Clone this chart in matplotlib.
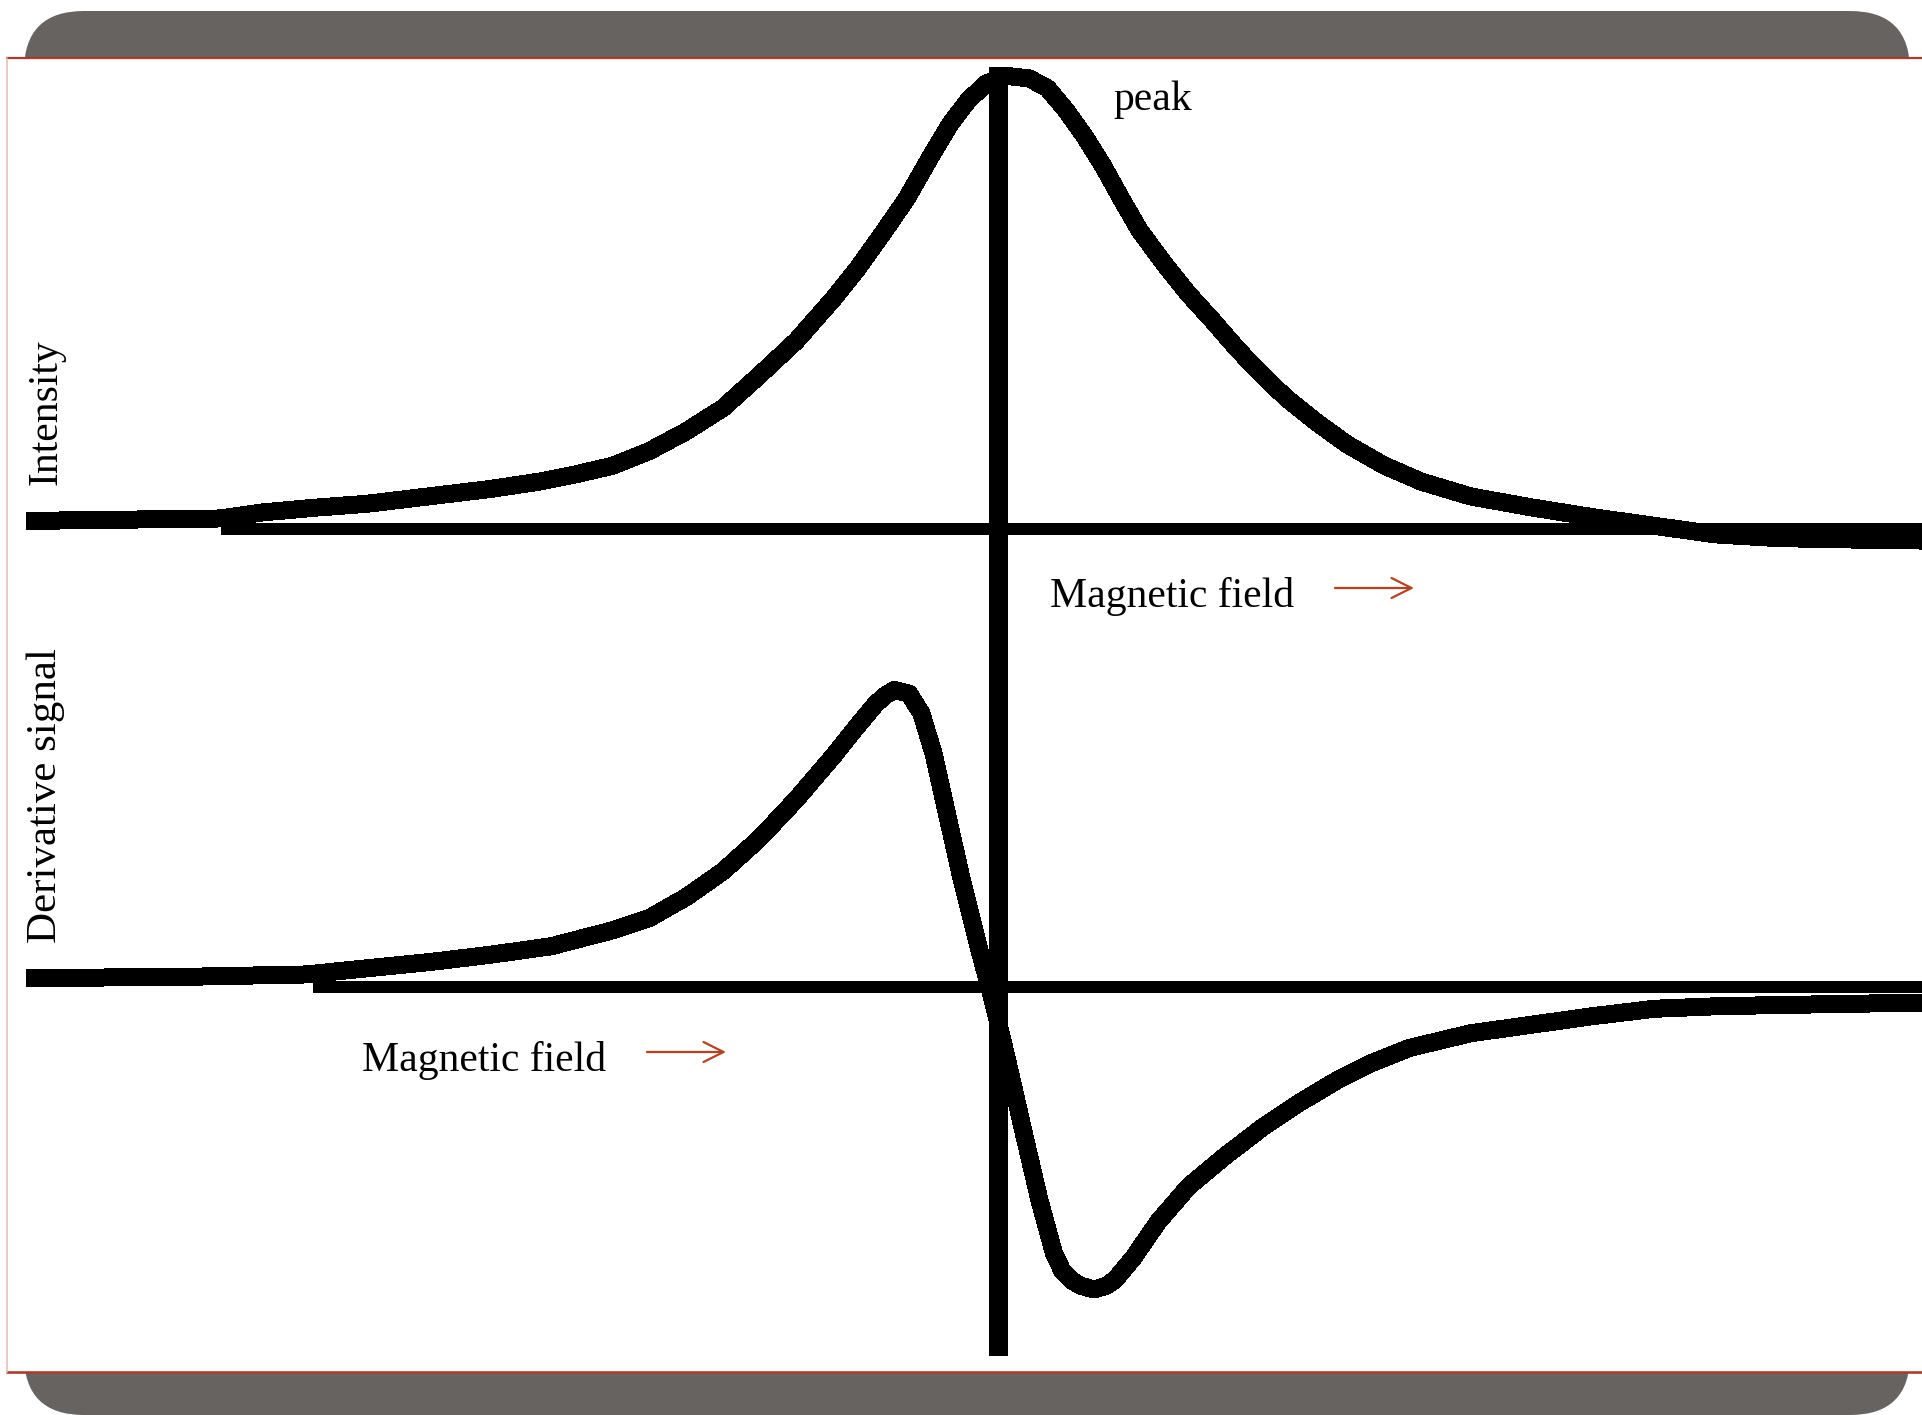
import matplotlib
matplotlib.use("Agg")
import matplotlib.pyplot as plt
from matplotlib.patches import FancyBboxPatch, Rectangle

# field in arbitrary units, 0 = line centre
field_abs = [-97.14, -87.58, -77.78, -73.49, -67.97, -63.07, -56.94, -50.81, -45.91, -42.23,
             -38.55, -34.87, -31.2, -27.52, -23.84, -20.16, -16.49, -14.04, -11.58, -9.13,
             -6.68, -4.84, -3.0, -1.16, 0.92, 3.13, 4.96, 6.8, 8.64, 10.48,
             12.32, 14.16, 16.61, 19.06, 21.51, 23.96, 26.42, 28.87, 31.93, 35.0,
             38.67, 42.35, 47.25, 53.38, 59.51, 65.64, 71.77, 77.9, 84.03, 92.36]
intensity = [1.75, 2.02, 2.29, 3.64, 4.72, 5.53, 7.15, 8.77, 10.39, 12.01,
             13.9, 17.14, 21.46, 26.59, 33.88, 41.44, 50.62, 57.37, 64.93, 72.76,
             82.21, 88.96, 94.36, 98.14, 99.76, 99.22, 97.06, 92.2, 86.53, 80.05,
             72.76, 65.74, 58.45, 51.7, 45.76, 39.55, 33.88, 28.75, 23.35, 18.49,
             13.9, 10.39, 7.15, 4.72, 2.56, 0.67, -1.22, -2.03, -2.3, -2.57]

field_der = [-97.14, -81.45, -69.2, -63.07, -56.94, -50.81, -44.68, -38.55, -34.87, -31.2,
             -27.52, -23.84, -20.16, -16.49, -14.04, -12.2, -11.2, -10.36, -8.89, -7.66,
             -6.44, -5.21, -3.62, -2.02, -0.55, 0.92, 2.51, 4.11, 5.58, 6.44,
             7.42, 8.27, 9.62, 10.85, 11.71, 13.55, 16.0, 19.06, 22.74, 26.42,
             30.09, 33.77, 37.45, 41.13, 47.25, 53.38, 59.51, 65.64, 71.77, 77.9,
             92.36]
derivative = [2.94, 3.35, 4.16, 6.21, 8.25, 10.7, 13.56, 18.87, 22.96, 29.9,
              38.49, 49.52, 62.59, 76.89, 87.11, 94.46, 97.3, 98.96, 97.73, 91.19,
              77.71, 59.32, 35.63, 14.38, -4.01, -24.44, -47.73, -70.61, -88.59, -94.72,
              -97.99, -99.62, -100.85, -99.62, -97.58, -90.22, -78.37, -66.52, -56.31, -46.91,
              -38.74, -31.39, -25.26, -20.35, -15.45, -12.59, -9.73, -7.28, -6.46, -6.05,
              -5.23]

W, H = 1922, 1415
GRAY = '#676361'
RED = '#b03a2a'
ARROW = '#b8401f'

def px(v):
    # pixel widths -> points at dpi 100
    return v * 0.72

fig = plt.figure(figsize=(W / 100, H / 100), dpi=100)

# slide frame in pixel units
frame = fig.add_axes([0, 0, 1, 1])
frame.set_xlim(0, W)
frame.set_ylim(H, 0)
frame.axis('off')
frame.add_patch(FancyBboxPatch((24, 11), 1886, 1404,
                               boxstyle='round,pad=0,rounding_size=60',
                               fc=GRAY, ec='none'))
frame.add_patch(Rectangle((6, 58), W, 1315, fc='white', ec='none'))
frame.plot([6, W], [58, 58], color=RED, lw=px(2.2), solid_capstyle='butt')
frame.plot([6, W], [1372, 1372], color=RED, lw=px(2.6), solid_capstyle='butt')
frame.plot([6.5, 6.5], [58, 1372], color='#e8b8b0', lw=px(1.5))

# shared field range, shifted so the resonance sits at 0
xlim = (-99.8, 92.4)

top = fig.add_axes([0, 0, 1, 1])
top.set_xlim(*xlim)
top.set_ylim(-195.2, 116.5)
top.axis('off')
top.plot(field_abs, intensity, color='black', lw=px(17), antialiased=False,
         solid_capstyle='butt', solid_joinstyle='round')
top.hlines(0, -77.7, xlim[1], color='black', lw=px(12), antialiased=False)
top.axvline(0, ymin=1 - 1355 / H, ymax=1 - 67 / H, color='black', lw=px(19),
            antialiased=False, solid_capstyle='butt')

bot = fig.add_axes([0, 0, 1, 1])
bot.set_xlim(*xlim)
bot.set_ylim(-142.7, 329.0)
bot.axis('off')
bot.plot(field_der, derivative, color='black', lw=px(17), antialiased=False,
         solid_capstyle='butt', solid_joinstyle='round')
bot.hlines(0, -68.5, xlim[1], color='black', lw=px(12), antialiased=False)

serif = 'Liberation Serif'
frame.text(1113, 110, 'peak', fontsize=30, family=serif, ha='left', va='baseline')
frame.text(1050, 607, 'Magnetic field', fontsize=30, family=serif, ha='left', va='baseline')
frame.text(362, 1071, 'Magnetic field', fontsize=30, family=serif, ha='left', va='baseline')
frame.text(46, 412, 'Intensity', fontsize=30, family=serif, rotation=90,
           ha='center', va='center')
frame.text(46, 796, 'Derivative signal', fontsize=31, family=serif, rotation=90,
           ha='center', va='center')

for x0, x1, y in [(1335, 1414, 588), (647, 726, 1052)]:
    frame.annotate('', xy=(x1, y), xytext=(x0, y),
                   arrowprops=dict(arrowstyle='->,head_length=0.8,head_width=0.4',
                                   color=ARROW, lw=1.6, mutation_scale=18,
                                   shrinkA=0, shrinkB=0))

fig.savefig('out.png', dpi=100)
